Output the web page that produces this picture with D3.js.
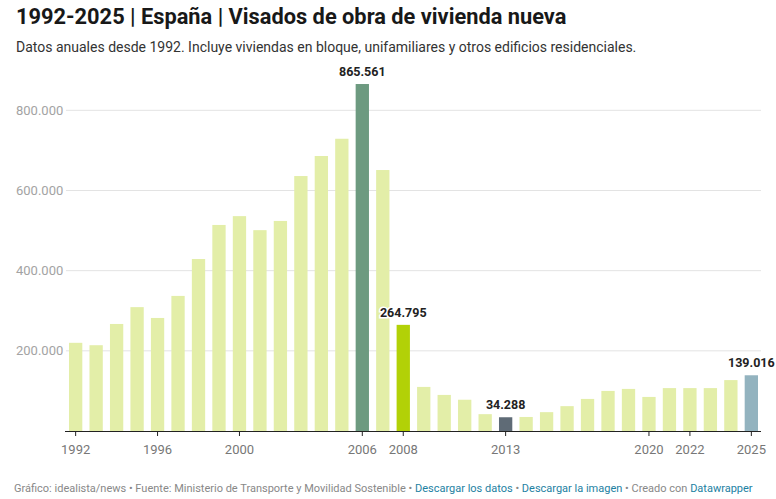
<!DOCTYPE html>
<html>
<head>
<meta charset="utf-8">
<script src="https://cdn.jsdelivr.net/npm/d3@7"></script>
<style>
  body{margin:0;background:#fff;font-family:Roboto,"Noto Sans",sans-serif;}
  svg text{font-family:Roboto,"Noto Sans",sans-serif;}
</style>
</head>
<body>
<svg id="chart" width="776" height="499"></svg>
<script>
'use strict';

/* data */
const years=d3.range(1992,2026);
const visados=[
  220000,214000,267000,309000,282000,337000,429000,514000,536000,501000,
  524000,636000,686000,729000,865561,651000,264795,110000,90000,78000,
  42000,34288,35000,47000,62000,80000,100000,105000,85000,107000,
  107000,107000,127000,139016
];
const yTicks=[200000,400000,600000,800000];
const xTicks=[1992,1996,2000,2006,2008,2013,2020,2022,2025];
const highlight={2006:'#6d9a80',2008:'#b2d107',2013:'#5f6b76',2025:'#93b3bf'};
const labelled=[2006,2008,2013,2025];

/* scales */
const svg=d3.select('#chart');
const fmt=d3.formatLocale({decimal:',',thousands:'.',grouping:[3],currency:['','€']}).format(',d');

const x=d3.scaleBand().domain(years).range([69,758]).paddingInner(0.35).paddingOuter(0);
const y=d3.scaleLinear().domain([0,800000]).range([431,110.3]);

/* title */
svg.append('text').attr('x',16).attr('y',24)
  .attr('font-size',21.8).attr('font-weight',700).attr('fill','#181818')
  .text('1992-2025 | España | Visados de obra de vivienda nueva');
svg.append('text').attr('x',16).attr('y',52)
  .attr('font-size',14).attr('fill','#333')
  .text('Datos anuales desde 1992. Incluye viviendas en bloque, unifamiliares y otros edificios residenciales.');

/* grid */
svg.append('g').selectAll('line').data(yTicks).join('line')
  .attr('x1',66).attr('x2',761)
  .attr('y1',d=>y(d)).attr('y2',d=>y(d))
  .attr('stroke','#e3e3e3');
svg.append('g').selectAll('text').data(yTicks).join('text')
  .attr('x',16).attr('y',d=>y(d)).attr('dy','0.35em')
  .attr('font-size',13).attr('fill','#a3a3a3')
  .text(d=>fmt(d));

/* bars */
svg.append('g').selectAll('rect').data(years).join('rect')
  .attr('x',d=>x(d))
  .attr('width',x.bandwidth())
  .attr('y',(d,i)=>y(visados[i]))
  .attr('height',(d,i)=>y(0)-y(visados[i]))
  .attr('fill',d=>highlight[d]||'#e3eea8');

/* value labels */
svg.append('g').selectAll('text').data(labelled).join('text')
  .attr('x',d=>x(d)+x.bandwidth()/2)
  .attr('y',d=>y(visados[years.indexOf(d)])-8)
  .attr('text-anchor','middle')
  .attr('font-size',12.5).attr('font-weight',700).attr('fill','#222')
  .attr('stroke','#fff').attr('stroke-width',3).attr('paint-order','stroke')
  .text(d=>fmt(visados[years.indexOf(d)]));

/* x axis */
const xAxis=svg.append('g');
xAxis.append('line').attr('x1',65).attr('x2',761).attr('y1',431.5).attr('y2',431.5)
  .attr('stroke','#222').attr('stroke-width',1);
xAxis.selectAll('line.tick').data(xTicks).join('line').attr('class','tick')
  .attr('x1',d=>x(d)+x.bandwidth()/2).attr('x2',d=>x(d)+x.bandwidth()/2)
  .attr('y1',431).attr('y2',436)
  .attr('stroke','#222');
xAxis.selectAll('text').data(xTicks).join('text')
  .attr('x',d=>x(d)+x.bandwidth()/2).attr('y',449).attr('dy','0.35em')
  .attr('text-anchor','middle')
  .attr('font-size',13).attr('fill','#777')
  .text(d=>d);

/* footer */
const foot=svg.append('text').attr('x',14).attr('y',492)
  .attr('font-size',11).attr('fill','#888');
const parts=[
  ['Gráfico: idealista/news • Fuente: Ministerio de Transporte y Movilidad Sostenible • ','#888'],
  ['Descargar los datos','#1d81a2'],[' • ','#888'],
  ['Descargar la imagen','#1d81a2'],[' • Creado con ','#888'],
  ['Datawrapper','#1d81a2']
];
parts.forEach(p=>foot.append('tspan').attr('fill',p[1]).text(p[0]));
</script>
</body>
</html>
